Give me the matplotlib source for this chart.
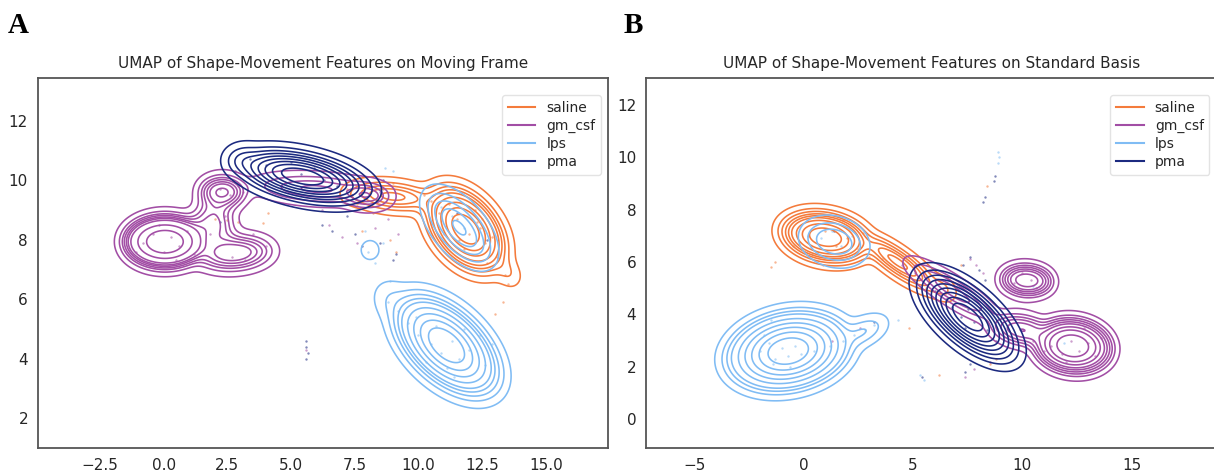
import numpy as np
import matplotlib
matplotlib.use("Agg")
import matplotlib.pyplot as plt
from matplotlib.lines import Line2D

GROUPS = ["saline", "gm_csf", "lps", "pma"]
COLORS = {"saline": "#f47b3c", "gm_csf": "#a24ea5", "lps": "#80bcf4", "pma": "#1c2a80"}

TITLE_A = "UMAP of Shape-Movement Features on Moving Frame"
TITLE_B = "UMAP of Shape-Movement Features on Standard Basis"

XTICKS_A = [-2.5, 0.0, 2.5, 5.0, 7.5, 10.0, 12.5, 15.0]
YTICKS_A = [2, 4, 6, 8, 10, 12]
XTICKS_B = [-5, 0, 5, 10, 15]
YTICKS_B = [0, 2, 4, 6, 8, 10, 12]
XLIM_A, YLIM_A = (-4.94, 17.44), (1.0, 13.43)
XLIM_B, YLIM_B = (-7.2, 18.86), (-1.1, 13.03)

# Density domes:
# (x, y, outer semi-axis a, outer semi-axis b, angle_deg, peak height)
A_SALINE_KDE = [(11.85, 8.35, 2.3, 1.45, -40, 1.0), (9.0, 9.45, 2.3, 0.55, -5, 0.7),
                (7.6, 9.5, 0.9, 0.35, 0, 0.45), (13.5, 6.9, 0.7, 0.4, -40, 0.45)]
A_GMCSF_KDE = [(0.05, 7.93, 2.0, 1.05, 0, 1.0), (2.75, 7.55, 2.0, 0.72, 3, 0.55),
               (2.3, 9.6, 1.2, 0.65, 0, 0.62), (1.9, 8.5, 1.1, 0.95, 0, 0.45),
               (6.0, 9.7, 3.3, 0.55, -3, 0.4), (7.9, 9.5, 1.4, 0.5, -3, 0.5)]
A_LPS_KDE = [(11.1, 4.45, 3.0, 1.6, -35, 1.0), (9.3, 5.7, 1.4, 0.85, -35, 0.35),
             (11.6, 8.4, 2.1, 1.0, -42, 0.58), (8.1, 7.65, 0.45, 0.35, 0, 0.4)]
A_PMA_KDE = [(5.45, 10.12, 3.4, 1.0, -10, 1.0), (3.3, 10.6, 1.2, 0.7, -5, 0.6)]

B_SALINE_KDE = [(1.0, 6.95, 2.6, 1.2, -8, 1.0), (4.3, 6.0, 2.7, 0.6, -30, 0.75),
                (6.3, 5.0, 0.9, 0.45, -25, 0.45)]
B_GMCSF_KDE = [(12.3, 2.8, 2.2, 1.25, -5, 1.0), (10.0, 3.4, 1.9, 0.7, -8, 0.6),
               (6.8, 4.9, 3.0, 0.55, -28, 0.5), (10.2, 5.3, 1.5, 0.68, -3, 0.85)]
B_LPS_KDE = [(-0.7, 2.6, 3.6, 1.9, 8, 1.0), (2.6, 3.3, 1.7, 0.65, 20, 0.45),
             (1.4, 6.78, 1.95, 1.1, -10, 0.48)]
B_PMA_KDE = [(7.5, 3.9, 3.35, 1.4, -34, 1.0)]

# scattered sample points
A_SALINE_X = [10.8, 11.2, 11.5, 12.0, 12.3, 12.6, 11.8, 12.9, 11.0, 10.5, 10.2, 12.2, 13.1, 12.7, 13.4,
              13.5, 13.3, 13.0, 9.0, 8.6, 8.2, 7.8, 8.9, 9.1, 7.6, 7.2, 2.0, 2.5, 2.9, 4.1, 3.9, 11.6, 12.4]
A_SALINE_Y = [8.9, 9.2, 8.7, 8.2, 8.6, 7.9, 7.7, 8.1, 8.2, 9.3, 9.5, 9.0, 7.4, 7.2, 6.8,
              6.5, 5.9, 5.5, 9.9, 9.7, 8.9, 8.3, 8.0, 7.6, 9.2, 9.7, 8.7, 8.65, 8.6, 8.9, 8.55, 8.0, 8.4]
A_GMCSF_X = [-0.8, -0.4, 0.0, 0.3, 0.6, -0.2, 0.9, 1.2, 0.5, -1.1, 2.2, 2.6, 2.9, 3.1, 2.7, 3.2, 1.8,
             2.4, 3.5, 4.0, 6.5, 7.0, 7.6, 8.3, 8.8, 9.2, 7.9, 8.5, 6.2, 5.6]
A_GMCSF_Y = [7.9, 8.2, 7.6, 8.1, 7.8, 8.5, 8.3, 7.5, 7.3, 7.6, 9.7, 9.5, 9.8, 9.6, 7.4, 7.3, 8.2,
             8.8, 8.2, 7.8, 8.5, 8.1, 7.9, 8.4, 8.7, 8.2, 9.4, 9.6, 9.0, 4.3]
A_LPS_X = [10.0, 10.5, 10.9, 11.3, 11.6, 11.1, 12.0, 12.4, 10.3, 9.6, 9.2, 8.8, 9.9, 11.8, 12.6, 10.7,
           11.4, 12.9, 8.0, 8.3, 8.9, 8.6, 7.9, 11.3, 11.8, 12.2, 10.9, 12.5, 9.0, 8.7]
A_LPS_Y = [4.8, 4.5, 4.2, 4.6, 4.0, 3.7, 4.3, 4.8, 3.9, 5.2, 5.6, 5.9, 5.4, 5.0, 3.8, 5.1,
           3.4, 4.5, 7.6, 7.2, 6.6, 7.9, 8.3, 8.8, 8.4, 7.9, 9.1, 8.7, 10.3, 10.4]
A_PMA_X = [4.0, 4.6, 5.0, 5.4, 5.9, 6.3, 3.4, 4.8, 6.8, 7.4, 2.8, 8.6, 6.2, 6.6, 7.2, 7.8, 8.5, 9.1,
           9.0, 7.5, 5.6, 5.6, 5.65, 5.6, 11.5, 12.7, 2.2]
A_PMA_Y = [10.5, 10.3, 10.6, 10.2, 10.4, 10.0, 10.7, 9.9, 9.8, 9.5, 10.3, 10.0, 8.5, 8.3, 8.8, 7.8, 7.9, 7.5,
           7.3, 8.2, 4.6, 4.4, 4.2, 4.0, 8.9, 8.0, 8.6]

B_SALINE_X = [-0.5, 0.2, 0.6, 1.0, 1.5, 2.0, 2.5, 2.7, 1.8, 3.0, -1.3, -1.5, 0.9, 3.6, 4.4, 5.0, 5.6,
              6.5, 8.5, 8.8, 7.2, 8.4, 4.8, 6.2]
B_SALINE_Y = [6.6, 7.0, 6.4, 7.2, 6.6, 6.9, 6.5, 7.1, 7.6, 6.2, 6.0, 5.8, 5.9, 6.1, 5.6, 5.3, 5.0,
              4.8, 2.1, 2.3, 5.9, 8.9, 3.5, 1.7]
B_GMCSF_X = [11.3, 11.8, 12.2, 12.6, 13.0, 13.3, 12.0, 11.0, 10.5, 13.6, 12.8, 9.6, 10.0, 10.4, 10.6,
             9.9, 7.6, 7.9, 8.2, 7.4, 7.8, 8.5, 5.1, 4.5, 2.6, 1.3]
B_GMCSF_Y = [2.8, 2.5, 3.0, 2.6, 2.9, 2.4, 2.2, 2.6, 3.0, 3.1, 3.5, 5.2, 5.6, 5.3, 5.0,
             4.9, 6.1, 5.9, 5.6, 1.6, 1.9, 2.2, 5.6, 5.9, 3.5, 3.0]
B_LPS_X = [-2.0, -1.6, -1.3, -1.0, -0.7, -0.4, -0.1, -1.8, -1.4, -0.6, 0.5, 1.2, 1.8, 2.3, 2.8, 3.2,
           -1.5, 0.8, 1.3, 1.7, 2.2, 0.4, 8.9, 8.95, 8.9, 5.3, 5.5, 4.3, 10.5, 11.9]
B_LPS_Y = [2.6, 2.9, 2.3, 2.7, 2.4, 2.8, 2.5, 3.2, 2.1, 2.0, 2.6, 2.8, 3.0, 3.2, 3.4, 3.6,
           3.8, 6.9, 7.2, 6.6, 7.0, 6.3, 10.2, 10.0, 9.8, 1.7, 1.5, 3.8, 5.1, 2.9]
B_PMA_X = [6.8, 7.2, 7.5, 7.8, 8.1, 7.4, 6.5, 8.4, 6.0, 8.8, 7.6, 7.3, 8.0, 8.7, 8.75, 8.3, 8.2,
           7.4, 7.6, 5.4, 3.2, 1.4, 8.3]
B_PMA_Y = [4.3, 3.9, 4.2, 3.7, 4.0, 3.5, 4.6, 3.4, 4.9, 3.0, 6.2, 5.9, 5.7, 9.1, 9.3, 8.5, 8.3,
           1.8, 2.1, 1.6, 3.7, 7.2, 5.3]

PANEL_A = {
    "saline": (A_SALINE_KDE, A_SALINE_X, A_SALINE_Y),
    "gm_csf": (A_GMCSF_KDE, A_GMCSF_X, A_GMCSF_Y),
    "lps": (A_LPS_KDE, A_LPS_X, A_LPS_Y),
    "pma": (A_PMA_KDE, A_PMA_X, A_PMA_Y),
}
PANEL_B = {
    "saline": (B_SALINE_KDE, B_SALINE_X, B_SALINE_Y),
    "gm_csf": (B_GMCSF_KDE, B_GMCSF_X, B_GMCSF_Y),
    "lps": (B_LPS_KDE, B_LPS_X, B_LPS_Y),
    "pma": (B_PMA_KDE, B_PMA_X, B_PMA_Y),
}

BLUR = 0.25  # smoothing bandwidth in data units


def quad(X, Y, x0, y0, a, b, ang):
    t = np.deg2rad(ang)
    dx, dy = X - x0, Y - y0
    u = dx * np.cos(t) + dy * np.sin(t)
    v = -dx * np.sin(t) + dy * np.cos(t)
    return (u / a) ** 2 + (v / b) ** 2


def blur(Z, sx, sy):
    ky = np.fft.fftfreq(Z.shape[0])
    kx = np.fft.rfftfreq(Z.shape[1])
    H = np.exp(-2 * np.pi ** 2 * (ky[:, None] ** 2 * sy ** 2 + kx[None, :] ** 2 * sx ** 2))
    return np.fft.irfft2(np.fft.rfft2(Z) * H, s=Z.shape)


def density(domes, X, Y, dx, dy):
    Z = np.zeros_like(X)
    for x0, y0, a, b, ang, h in domes:
        Z = np.maximum(Z, h * np.clip(1 - quad(X, Y, x0, y0, a, b, ang), 0, None))
    Z = blur(Z, BLUR / dx, BLUR / dy)
    return np.clip(Z, 0, None)


def iso_levels(Z, props):
    vals = np.sort(Z.ravel())[::-1]
    cum = np.cumsum(vals) / vals.sum()
    idx = np.searchsorted(cum, 1 - np.asarray(props))
    return np.take(vals, idx, mode="clip")


PROPS = np.linspace(0.05, 1, 10)[:-1]

plt.rcParams["font.family"] = ["DejaVu Sans"]
TEXT = "#262626"
fig = plt.figure(figsize=(12.14, 4.74), dpi=100)
axA = fig.add_axes([0.0311, 0.0549, 0.4698, 0.7806])
axB = fig.add_axes([0.5321, 0.0549, 0.4698, 0.7806])


def draw(ax, panel, xlim, ylim, xticks, yticks, title, fmt=None):
    gx = np.linspace(xlim[0] - 3, xlim[1] + 3, 640)
    gy = np.linspace(ylim[0] - 3, ylim[1] + 3, 640)
    X, Y = np.meshgrid(gx, gy)
    for g in GROUPS:
        _, px, py = panel[g]
        ax.scatter(px, py, s=3, color=COLORS[g], alpha=0.55, linewidths=0, zorder=1)
    for i, g in enumerate(GROUPS):
        domes = panel[g][0]
        Z = density(domes, X, Y, gx[1] - gx[0], gy[1] - gy[0])
        lv = iso_levels(Z, PROPS)
        ax.contour(X, Y, Z, levels=np.unique(lv), colors=COLORS[g], linewidths=1.15, zorder=2 + i)
    ax.set_xlim(*xlim)
    ax.set_ylim(*ylim)
    ax.set_xticks(xticks)
    ax.set_yticks(yticks)
    if fmt:
        ax.set_xticklabels([fmt.format(t).replace("-", "\u2212") for t in xticks])
    ax.tick_params(length=0, labelsize=11, colors=TEXT, pad=7)
    for s in ax.spines.values():
        s.set_color("#555555")
        s.set_linewidth(1.3)
    ax.set_title(title, fontsize=11, color=TEXT, pad=7)
    handles = [Line2D([], [], color=COLORS[g], lw=1.5) for g in GROUPS]
    leg = ax.legend(handles, GROUPS, loc="upper right", bbox_to_anchor=(0.988, 0.954),
                    borderaxespad=0.0, fontsize=10, frameon=True,
                    handlelength=2.0, labelspacing=0.3)
    leg.get_frame().set_edgecolor("#dddddd")
    for t in leg.get_texts():
        t.set_color(TEXT)


draw(axA, PANEL_A, XLIM_A, YLIM_A, XTICKS_A, YTICKS_A, TITLE_A, fmt="{:.1f}")
draw(axB, PANEL_B, XLIM_B, YLIM_B, XTICKS_B, YTICKS_B, TITLE_B)

fig.text(0.006, 0.93, "A", fontsize=21, fontweight="bold", family="Liberation Serif", color="black")
fig.text(0.5135, 0.93, "B", fontsize=21, fontweight="bold", family="Liberation Serif", color="black")

fig.savefig("out.png", dpi=100)
